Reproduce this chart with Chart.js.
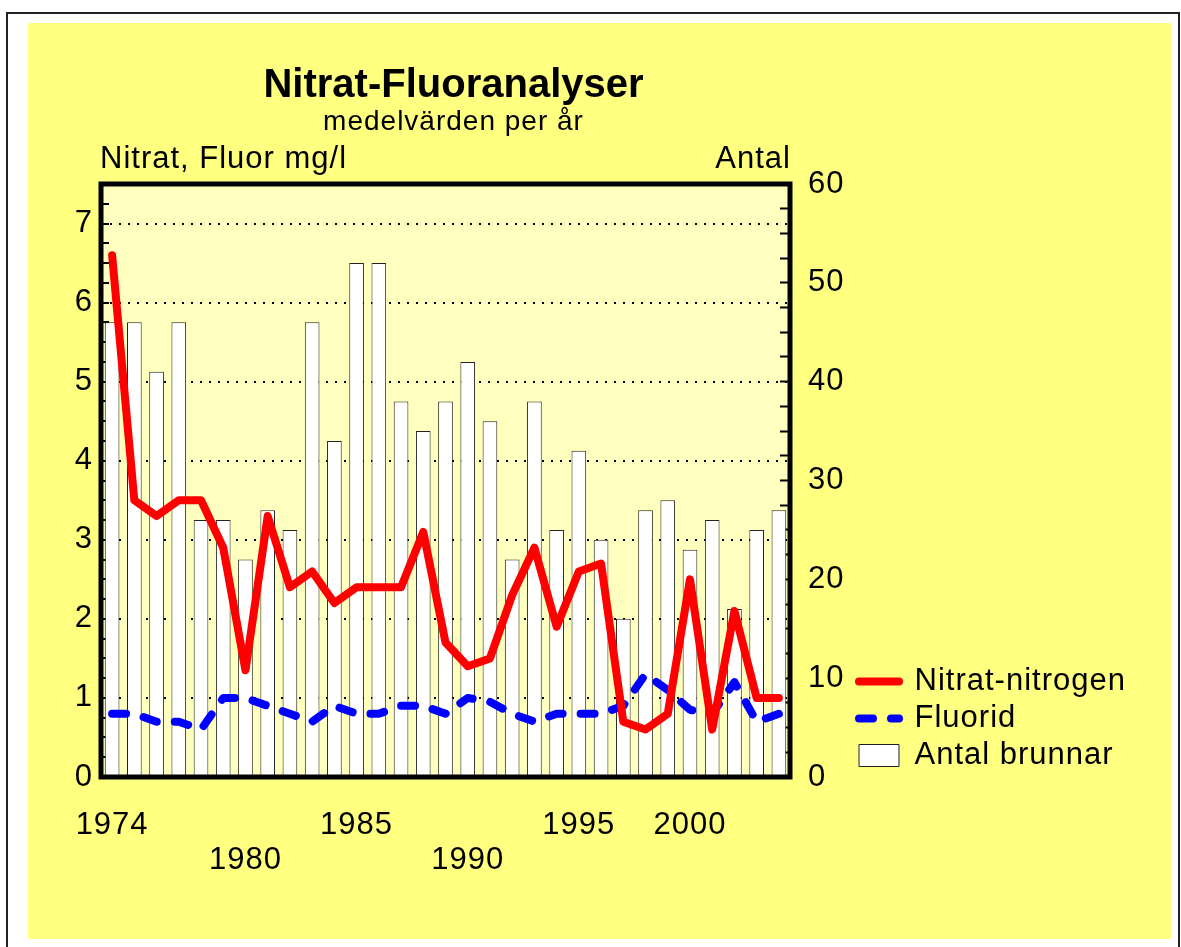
<!DOCTYPE html>
<html>
<head>
<meta charset="utf-8">
<title>Nitrat-Fluoranalyser</title>
<script src="https://cdn.jsdelivr.net/npm/chart.js@4.4.0/dist/chart.umd.min.js"></script>
<style>
    html, body { margin: 0; padding: 0; background: #fff; overflow: hidden; }
    #frame { position: absolute; left: 6px; top: 12px; width: 1170px; height: 960px; border: 2px solid #222; }
    #paper { position: absolute; left: 28px; top: 23px; width: 1143px; height: 916px; background: #ffff80; }
    #wrap { position: absolute; left: 0; top: 0; width: 1181px; height: 947px; }
</style>
</head>
<body>
<div id="frame"></div>
<div id="paper"></div>
<div id="wrap"><canvas id="chart" width="1181" height="947"></canvas></div>
<script>
// Chart data
const years = ['1974', '1975', '1976', '1977', '1978', '1979', '1980', '1981', '1982', '1983',
               '1984', '1985', '1986', '1987', '1988', '1989', '1990', '1991', '1992', '1993',
               '1994', '1995', '1996', '1997', '1998', '1999', '2000', '2001', '2002', '2003', '2004'];
const xLabelsTop = ['1974', '1985', '1995', '2000'];
const xLabelsBottom = ['1980', '1990'];

// mg/l, left axis
const nitrat = [6.6, 3.5, 3.3, 3.5, 3.5, 2.9, 1.35, 3.3, 2.4, 2.6,
                2.2, 2.4, 2.4, 2.4, 3.1, 1.7, 1.4, 1.5, 2.3, 2.9,
                1.9, 2.6, 2.7, 0.7, 0.6, 0.8, 2.5, 0.6, 2.1, 1.0, 1.0];
const fluor = [0.8, 0.8, 0.7, 0.7, 0.6, 1.0, 1.0, 0.9, 0.8, 0.7,
               0.9, 0.8, 0.8, 0.9, 0.9, 0.8, 1.0, 0.95, 0.8, 0.7,
               0.8, 0.8, 0.8, 0.9, 1.3, 1.1, 0.85, 0.8, 1.2, 0.7, 0.8];
// number of wells, right axis
const antal = [46, 46, 41, 46, 26, 26, 22, 27, 25, 46,
               34, 52, 52, 38, 35, 38, 42, 36, 22, 38,
               25, 33, 24, 16, 27, 28, 23, 26, 17, 25, 27];

const leftMax = 7.5;
const rightMax = 60;

const titleText = 'Nitrat-Fluoranalyser';
const subtitleText = 'medelvärden per år';
const leftAxisText = 'Nitrat, Fluor mg/l';
const rightAxisText = 'Antal';

const FONT = '"Liberation Sans", Arial, Helvetica, sans-serif';
Chart.defaults.font.family = FONT;
Chart.defaults.color = '#000';

// plot background, frame and header texts
const plotDecor = {
    id: 'plotDecor',
    afterLayout: function (chart) {
        // legend only reserves a narrow box, widen its clip so the labels show
        const lg = chart.legend;
        if (lg) {
            lg.width = 320;
            lg.right = lg.left + 320;
        }
    },
    beforeDraw: function (chart) {
        const c = chart.ctx;
        const a = chart.chartArea;
        c.save();
        c.fillStyle = '#ffffc0';
        c.fillRect(a.left, a.top, a.right - a.left, a.bottom - a.top);
        c.restore();
        c.letterSpacing = '1px';
    },
    afterDatasetsDraw: function (chart) {
        const c = chart.ctx;
        const a = chart.chartArea;
        c.save();
        c.strokeStyle = '#000';
        c.lineWidth = 5;
        c.strokeRect(a.left, a.top, a.right - a.left, a.bottom - a.top);
        c.restore();
    },
    afterDraw: function (chart) {
        const c = chart.ctx;
        const a = chart.chartArea;
        const mid = (a.left + a.right) / 2 + 8;
        c.save();
        c.fillStyle = '#000';
        c.textBaseline = 'alphabetic';
        c.textAlign = 'center';
        c.letterSpacing = '0px';
        c.font = 'bold 40px ' + FONT;
        c.fillText(titleText, mid, 97);
        c.letterSpacing = '1px';
        c.font = '28px ' + FONT;
        c.fillText(subtitleText, mid, 130);
        c.font = '31px ' + FONT;
        c.textAlign = 'left';
        c.fillText(leftAxisText, a.left - 1, 168);
        c.textAlign = 'right';
        c.fillText(rightAxisText, a.right + 1, 168);
        c.restore();
        c.letterSpacing = '0px';
    }
};

const ctx = document.getElementById('chart');
new Chart(ctx, {
    type: 'bar',
    data: {
        labels: years,
        datasets: [
            {
                type: 'line',
                label: 'Nitrat-nitrogen',
                data: nitrat,
                yAxisID: 'y',
                borderColor: '#ff0000',
                backgroundColor: '#ff0000',
                borderWidth: 8,
                borderCapStyle: 'round',
                borderJoinStyle: 'round',
                pointRadius: 0,
                pointHoverRadius: 0,
                tension: 0,
                fill: false
            },
            {
                type: 'line',
                label: 'Fluorid',
                data: fluor,
                yAxisID: 'y',
                borderColor: '#0000ff',
                backgroundColor: '#0000ff',
                borderWidth: 8,
                borderDash: [14, 18],
                borderCapStyle: 'round',
                borderJoinStyle: 'round',
                pointRadius: 0,
                pointHoverRadius: 0,
                tension: 0,
                fill: false
            },
            {
                type: 'bar',
                label: 'Antal brunnar',
                data: antal,
                yAxisID: 'y1',
                backgroundColor: '#ffffff',
                borderColor: '#222222',
                borderWidth: 1,
                barPercentage: 0.66,
                categoryPercentage: 1
            }
        ]
    },
    options: {
        responsive: false,
        animation: false,
        events: [],
        devicePixelRatio: 1,
        layout: {
            padding: { left: 0, top: 184, right: 228, bottom: 70 }
        },
        plugins: {
            title: { display: false },
            tooltip: { enabled: false },
            legend: {
                position: 'right',
                align: 'end',
                fullSize: false,
                maxWidth: 100,
                labels: {
                    usePointStyle: true,
                    pointStyleWidth: 40,
                    boxHeight: 22,
                    padding: 6,
                    color: '#000',
                    font: { size: 31 },
                    generateLabels: function (chart) {
                        return chart.data.datasets.map(function (ds, i) {
                            return {
                                text: ds.label,
                                datasetIndex: i,
                                fillStyle: ds.backgroundColor,
                                strokeStyle: ds.borderColor,
                                lineWidth: ds.type === 'line' ? ds.borderWidth : 1,
                                lineDash: ds.borderDash || [],
                                lineCap: ds.borderCapStyle || 'butt',
                                pointStyle: ds.type === 'line' ? 'line' : 'rect',
                                fontColor: '#000',
                                hidden: false
                            };
                        });
                    }
                }
            }
        },
        scales: {
            x: {
                type: 'category',
                offset: true,
                grid: { display: false, drawTicks: false },
                border: { display: false },
                ticks: {
                    autoSkip: false,
                    maxRotation: 0,
                    minRotation: 0,
                    padding: 31,
                    font: { size: 31, lineHeight: 1.13 },
                    callback: function (value) {
                        const lab = this.getLabelForValue(value);
                        if (xLabelsTop.includes(lab)) return lab;
                        if (xLabelsBottom.includes(lab)) return ['', lab];
                        return '';
                    }
                },
                afterFit: function (scale) { scale.height = 100; }
            },
            y: {
                type: 'linear',
                position: 'left',
                min: 0,
                max: leftMax,
                border: { display: false, dash: [2, 7] },
                grid: {
                    lineWidth: 2,
                    color: function (c) {
                        const v = c.tick ? c.tick.value : 0;
                        return (Number.isInteger(v) && v > 0 && v < leftMax) ? '#000' : 'rgba(0,0,0,0)';
                    },
                    tickColor: '#000',
                    tickWidth: 2,
                    tickLength: -8
                },
                ticks: {
                    stepSize: 0.25,
                    autoSkip: false,
                    padding: 16,
                    font: { size: 31 },
                    callback: function (value) {
                        return Number.isInteger(value) ? String(value) : '';
                    }
                },
                afterFit: function (scale) { scale.width = 101; }
            },
            y1: {
                type: 'linear',
                position: 'right',
                min: 0,
                max: rightMax,
                border: { display: false },
                grid: {
                    drawOnChartArea: false,
                    tickColor: '#000',
                    tickWidth: 2,
                    tickLength: -10
                },
                ticks: {
                    stepSize: 2.5,
                    autoSkip: false,
                    padding: 28,
                    font: { size: 31 },
                    callback: function (value) {
                        return value % 10 === 0 ? String(value) : '';
                    }
                },
                afterFit: function (scale) { scale.width = 63; }
            }
        }
    },
    plugins: [plotDecor]
});
</script>
</body>
</html>
